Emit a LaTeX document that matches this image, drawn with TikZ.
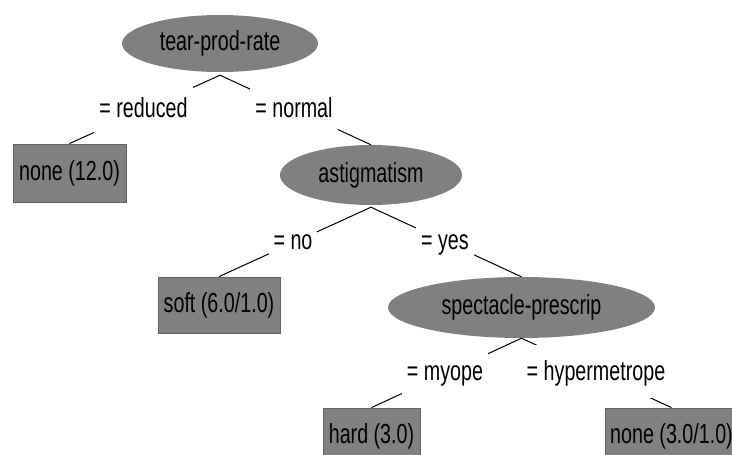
\documentclass[tikz,border=0pt]{standalone}
\usepackage{fontspec}
\setmainfont{Liberation Sans}
\usetikzlibrary{shapes.geometric}
\definecolor{wekagray}{RGB}{128,128,128}
\definecolor{wekaedge}{RGB}{100,100,100}
\newcommand{\tx}[1]{\scalebox{1}[1.4]{#1}}

\begin{document}
\begin{tikzpicture}[x=1pt,y=-1pt,
    font=\fontsize{19.7}{22}\selectfont,
    split/.style={ellipse,fill=wekagray,inner sep=0pt},
    leaf/.style={rectangle,fill=wekagray,draw=wekaedge,line width=0.8pt,inner sep=0pt},
    branch/.style={line width=1pt},
    val/.style={fill=white,anchor=base,inner xsep=5pt,inner ysep=13pt,text height=22pt,text depth=5pt}]
  \clip (0,0) rectangle (732,455);
  \fill[white] (0,0) rectangle (732,455);

  \node[split,minimum width=196pt,minimum height=57pt] (tear) at (220,43.5) {\tx{tear-prod-rate}};
  \node[leaf,minimum width=113pt,minimum height=58pt] (none1) at (69.5,173) {\tx{none (12.0)}};
  \node[split,minimum width=182pt,minimum height=60pt] (astig) at (371,175) {\tx{astigmatism}};
  \node[leaf,minimum width=122pt,minimum height=56pt] (soft) at (219,305) {\tx{soft (6.0/1.0)}};
  \node[split,minimum width=267pt,minimum height=61pt] (spect) at (521.5,307.5) {\tx{spectacle-prescrip}};
  \node[leaf,minimum width=97pt,minimum height=57pt] (hard) at (371.5,436.5) {\tx{hard (3.0)}};
  \node[leaf,minimum width=133pt,minimum height=57pt] (none2) at (671.5,436.5) {\tx{none (3.0/1.0)}};

  \draw[branch] (tear.south) ++(0,3) -- (none1.north);
  \draw[branch] (tear.south) ++(0,3) -- (astig.north);
  \draw[branch] (astig.south) ++(0,2) -- (soft.north);
  \draw[branch] (astig.south) ++(0,2) -- (spect.north);
  \draw[branch] (spect.south) -- (hard.north);
  \draw[branch] (spect.south) -- (none2.north);

  \node[val] (reduced) at (143.5,117) {\tx{= reduced}};
  \node[val] (normal) at (294,117) {\tx{= normal}};
  \node[val] (no) at (293,249) {\tx{= no}};
  \node[val] (yes) at (445,249) {\tx{= yes}};
  \node[val] (myope) at (445,380) {\tx{= myope}};
  \node[val] (hyper) at (596,380) {\tx{= hypermetrope}};
\end{tikzpicture}
\end{document}
